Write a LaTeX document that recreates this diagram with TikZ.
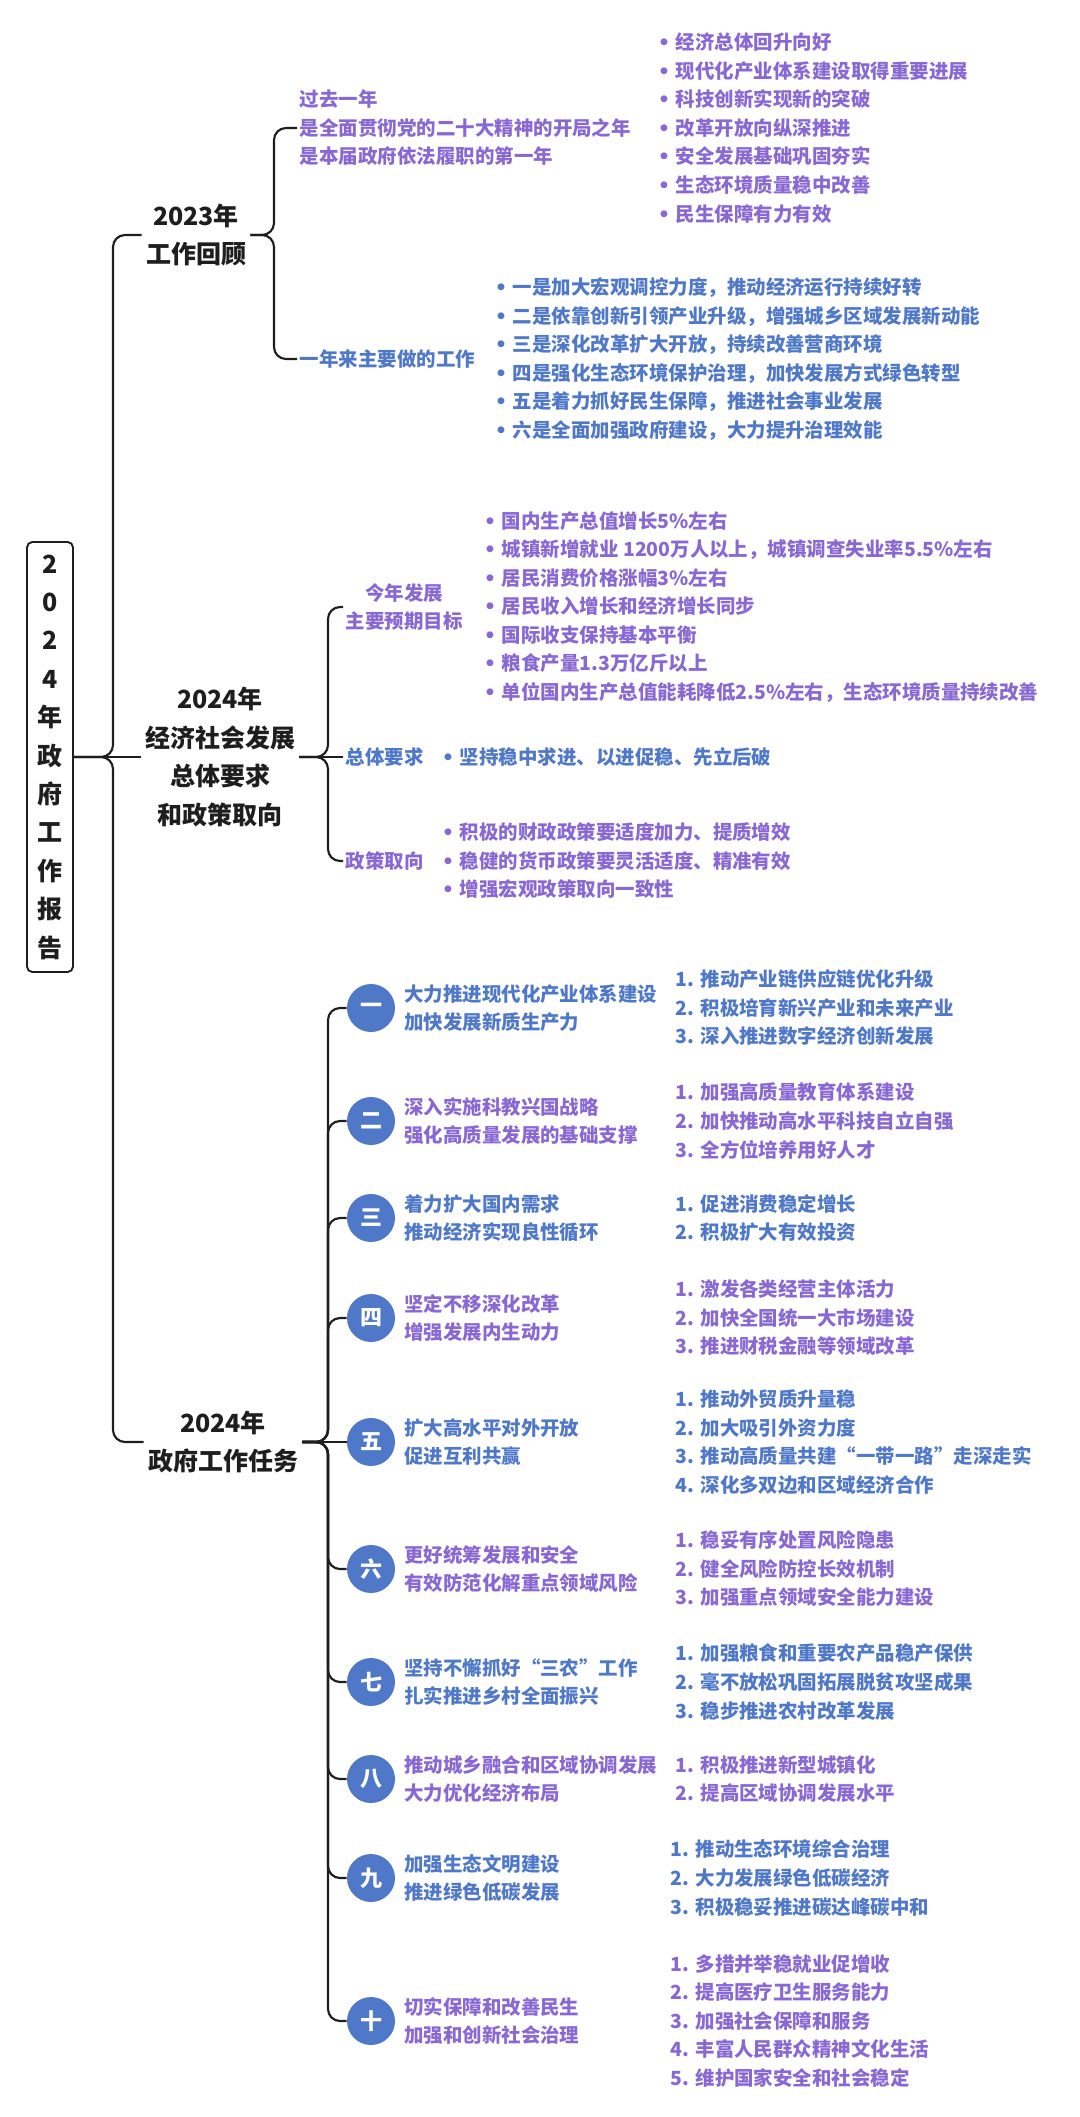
\documentclass[tikz,border=0pt]{standalone}
\usepackage{fontspec}
\setmainfont{Noto Sans CJK SC}
\newfontfamily\dotfont{DejaVu Sans}
\usetikzlibrary{positioning}
\definecolor{ink}{RGB}{30,30,30}
\definecolor{tblue}{RGB}{80,120,200}
\definecolor{tpurple}{RGB}{138,104,212}
\newcommand{\bul}{\makebox[13.5pt][l]{\dotfont •}}

\begin{document}
\begin{tikzpicture}[x=0.75pt, y=-0.75pt,
  link/.style={draw=ink, line width=1.6pt, rounded corners=9pt},
  rootbox/.style={draw=ink, line width=1.4pt, rounded corners=4pt, text=ink, align=center, minimum width=34.5pt, minimum height=322.5pt, inner sep=0pt, font=\fontsize{18.75}{28.8}\selectfont\bfseries},
  head/.style={text=ink, align=center, inner sep=3pt, font=\fontsize{18.75}{28.9}\selectfont\bfseries},
  blueleaf/.style={text=tblue, align=left, anchor=west, inner sep=2pt, font=\fontsize{14.6}{21.4}\selectfont\bfseries},
  purpleleaf/.style={blueleaf, text=tpurple},
  badge/.style={circle, fill=tblue, text=white, minimum size=36pt, inner sep=0pt, font=\fontsize{16.5}{18}\selectfont\bfseries}]

\useasboundingbox (0,0) rectangle (1080,2117);

\node[rootbox] (root) at (50,757) {2\\0\\2\\4\\年\\政\\府\\工\\作\\报\\告};
\coordinate (trunk) at (113,757);

\node[head] (review) at (196,235) {2023年\\工作回顾};
\node[head] (econ) at (220,757) {2024年\\经济社会发展\\总体要求\\和政策取向};
\node[head] (tasks) at (223,1442) {2024年\\政府工作任务};

\draw[link] (root.east) -- (trunk) |- (review.west);
\draw[link] (root.east) -- (econ.west);
\draw[link] (root.east) -- (trunk) |- (tasks.west);

\coordinate (reviewJ) at (274,235);
\node[purpleleaf] (past) at (297,128) {过去一年\\是全面贯彻党的二十大精神的开局之年\\是本届政府依法履职的第一年};
\node[blueleaf] (work) at (297,359) {一年来主要做的工作};
\draw[link] (review.east) -- (reviewJ) |- (past.west);
\draw[link] (review.east) -- (reviewJ) |- (work.west);

\node[purpleleaf] (pastlist) at (655,128) {\bul 经济总体回升向好\\\bul 现代化产业体系建设取得重要进展\\\bul 科技创新实现新的突破\\\bul 改革开放向纵深推进\\\bul 安全发展基础巩固夯实\\\bul 生态环境质量稳中改善\\\bul 民生保障有力有效};
\node[blueleaf] (worklist) at (492,359) {\bul 一是加大宏观调控力度，推动经济运行持续好转\\\bul 二是依靠创新引领产业升级，增强城乡区域发展新动能\\\bul 三是深化改革扩大开放，持续改善营商环境\\\bul 四是强化生态环境保护治理，加快发展方式绿色转型\\\bul 五是着力抓好民生保障，推进社会事业发展\\\bul 六是全面加强政府建设，大力提升治理效能};

\coordinate (econJ) at (328,757);
\node[purpleleaf, align=center] (goal) at (343,607) {今年发展\\主要预期目标};
\node[blueleaf] (general) at (343,757) {总体要求};
\node[purpleleaf] (policy) at (343,861) {政策取向};
\draw[link] (econ.east) -- (econJ) |- (goal.west);
\draw[link] (econ.east) -- (general.west);
\draw[link] (econ.east) -- (econJ) |- (policy.west);

\node[purpleleaf] (goallist) at (481,607) {\bul 国内生产总值增长5\%左右\\\bul 城镇新增就业 1200万人以上，城镇调查失业率5.5\%左右\\\bul 居民消费价格涨幅3\%左右\\\bul 居民收入增长和经济增长同步\\\bul 国际收支保持基本平衡\\\bul 粮食产量1.3万亿斤以上\\\bul 单位国内生产总值能耗降低2.5\%左右，生态环境质量持续改善};
\node[blueleaf] (generallist) at (439,757) {\bul 坚持稳中求进、以进促稳、先立后破};
\node[purpleleaf] (policylist) at (439,861) {\bul 积极的财政政策要适度加力、提质增效\\\bul 稳健的货币政策要灵活适度、精准有效\\\bul 增强宏观政策取向一致性};

\coordinate (tasksJ) at (328,1442);
\node[badge] (t1) at (371,1008) {一};
\node[badge] (t2) at (371,1121) {二};
\node[badge] (t3) at (371,1218) {三};
\node[badge] (t4) at (371,1318) {四};
\node[badge] (t5) at (371,1442) {五};
\node[badge] (t6) at (371,1569) {六};
\node[badge] (t7) at (371,1682) {七};
\node[badge] (t8) at (371,1779) {八};
\node[badge] (t9) at (371,1878) {九};
\node[badge] (t10) at (371,2021) {十};

\draw[link] (tasks.east) -- (tasksJ) |- (t1.west);
\draw[link] (tasks.east) -- (tasksJ) |- (t2.west);
\draw[link] (tasks.east) -- (tasksJ) |- (t3.west);
\draw[link] (tasks.east) -- (tasksJ) |- (t4.west);
\draw[link] (tasks.east) -- (t5.west);
\draw[link] (tasks.east) -- (tasksJ) |- (t6.west);
\draw[link] (tasks.east) -- (tasksJ) |- (t7.west);
\draw[link] (tasks.east) -- (tasksJ) |- (t8.west);
\draw[link] (tasks.east) -- (tasksJ) |- (t9.west);
\draw[link] (tasks.east) -- (tasksJ) |- (t10.west);

\node[blueleaf, right=4.5pt of t1] (t1title) {大力推进现代化产业体系建设\\加快发展新质生产力};
\node[purpleleaf, right=4.5pt of t2] (t2title) {深入实施科教兴国战略\\强化高质量发展的基础支撑};
\node[blueleaf, right=4.5pt of t3] (t3title) {着力扩大国内需求\\推动经济实现良性循环};
\node[purpleleaf, right=4.5pt of t4] (t4title) {坚定不移深化改革\\增强发展内生动力};
\node[blueleaf, right=4.5pt of t5] (t5title) {扩大高水平对外开放\\促进互利共赢};
\node[purpleleaf, right=4.5pt of t6] (t6title) {更好统筹发展和安全\\有效防范化解重点领域风险};
\node[blueleaf, right=4.5pt of t7] (t7title) {坚持不懈抓好“三农”工作\\扎实推进乡村全面振兴};
\node[purpleleaf, right=4.5pt of t8] (t8title) {推动城乡融合和区域协调发展\\大力优化经济布局};
\node[blueleaf, right=4.5pt of t9] (t9title) {加强生态文明建设\\推进绿色低碳发展};
\node[purpleleaf, right=4.5pt of t10] (t10title) {切实保障和改善民生\\加强和创新社会治理};

\node[blueleaf] (t1items) at (673,1008) {1. 推动产业链供应链优化升级\\2. 积极培育新兴产业和未来产业\\3. 深入推进数字经济创新发展};
\node[purpleleaf] (t2items) at (673,1121) {1. 加强高质量教育体系建设\\2. 加快推动高水平科技自立自强\\3. 全方位培养用好人才};
\node[blueleaf] (t3items) at (673,1218) {1. 促进消费稳定增长\\2. 积极扩大有效投资};
\node[purpleleaf] (t4items) at (673,1318) {1. 激发各类经营主体活力\\2. 加快全国统一大市场建设\\3. 推进财税金融等领域改革};
\node[blueleaf] (t5items) at (673,1442) {1. 推动外贸质升量稳\\2. 加大吸引外资力度\\3. 推动高质量共建“一带一路”走深走实\\4. 深化多双边和区域经济合作};
\node[purpleleaf] (t6items) at (673,1569) {1. 稳妥有序处置风险隐患\\2. 健全风险防控长效机制\\3. 加强重点领域安全能力建设};
\node[blueleaf] (t7items) at (673,1682) {1. 加强粮食和重要农产品稳产保供\\2. 毫不放松巩固拓展脱贫攻坚成果\\3. 稳步推进农村改革发展};
\node[purpleleaf] (t8items) at (673,1779) {1. 积极推进新型城镇化\\2. 提高区域协调发展水平};
\node[blueleaf] (t9items) at (668,1878) {1. 推动生态环境综合治理\\2. 大力发展绿色低碳经济\\3. 积极稳妥推进碳达峰碳中和};
\node[purpleleaf] (t10items) at (668,2021) {1. 多措并举稳就业促增收\\2. 提高医疗卫生服务能力\\3. 加强社会保障和服务\\4. 丰富人民群众精神文化生活\\5. 维护国家安全和社会稳定};

\end{tikzpicture}
\end{document}
